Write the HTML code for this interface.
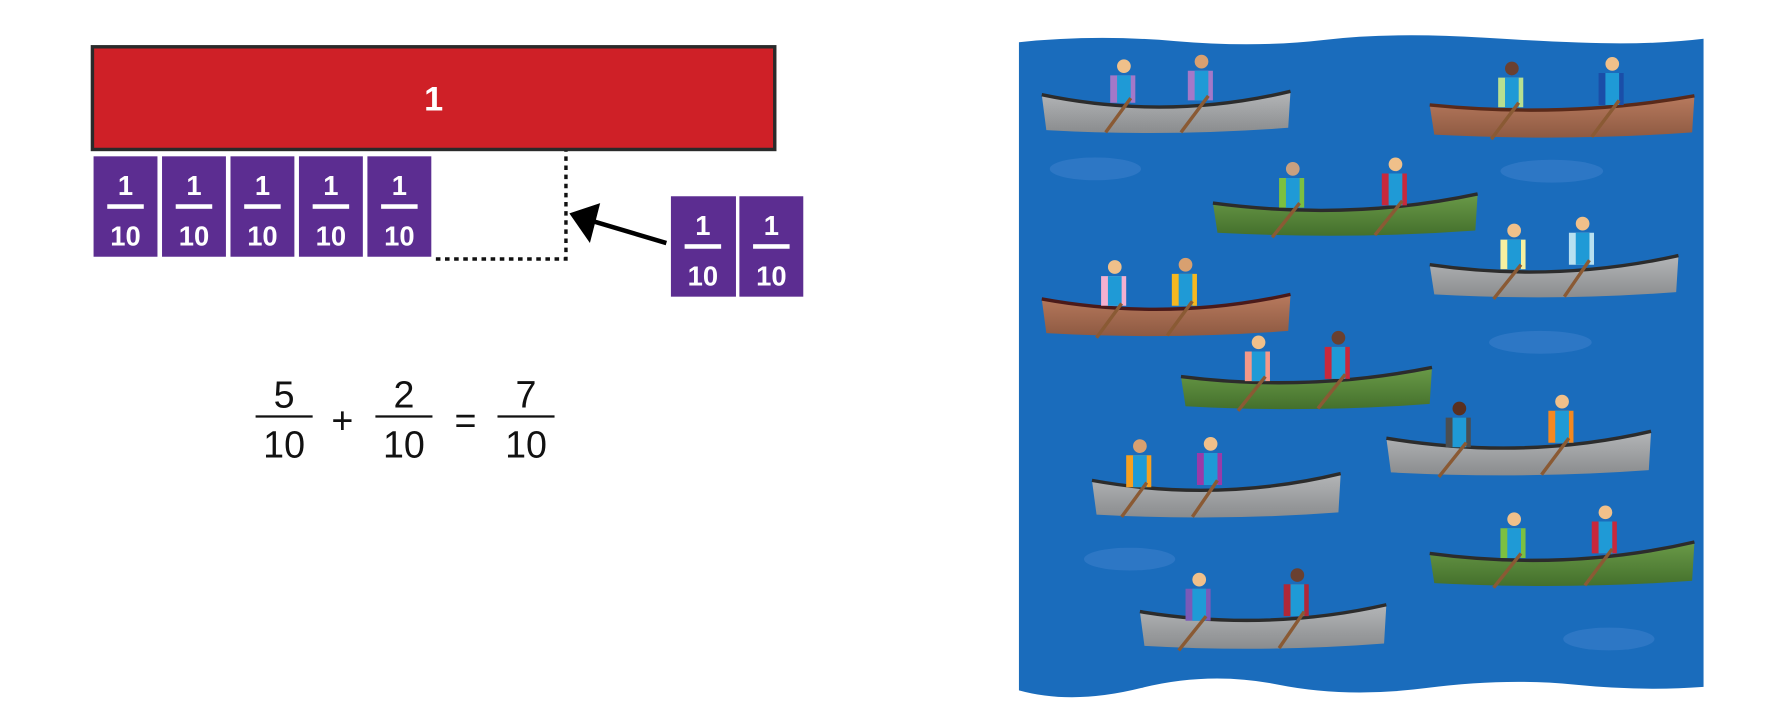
<!DOCTYPE html>
<html><head><meta charset="utf-8"><style>
html,body{margin:0;padding:0;background:#fff;}
svg{display:block;}
</style></head><body>
<svg width="1780" height="720" viewBox="0 0 1560 631" xmlns="http://www.w3.org/2000/svg" font-family="Liberation Sans, DejaVu Sans, sans-serif">
<defs>
<linearGradient id="gray" x1="0" y1="0" x2="0" y2="1"><stop offset="0" stop-color="#b4b6b8"/><stop offset="1" stop-color="#8a8c8e"/></linearGradient>
<linearGradient id="brown" x1="0" y1="0" x2="0" y2="1"><stop offset="0" stop-color="#b87a5e"/><stop offset="1" stop-color="#8e5a42"/></linearGradient>
<linearGradient id="green" x1="0" y1="0" x2="0" y2="1"><stop offset="0" stop-color="#6a9a48"/><stop offset="1" stop-color="#44702c"/></linearGradient>
</defs>
<!-- red bar -->
<rect x="81" y="41" width="598" height="90" fill="#cf2027" stroke="#2a2a2a" stroke-width="3"/>
<text x="380" y="97" font-size="30" font-weight="bold" fill="#fff" text-anchor="middle">1</text>
<!-- tiles -->
<g font-weight="bold" fill="#fff" text-anchor="middle" font-size="24">
<g transform="translate(82,137)"><rect width="56" height="88" fill="#5c2d91"/><text x="28" y="34">1</text><rect x="12" y="42" width="32" height="4" fill="#fff"/><text x="28" y="78">10</text></g>
<g transform="translate(142,137)"><rect width="56" height="88" fill="#5c2d91"/><text x="28" y="34">1</text><rect x="12" y="42" width="32" height="4" fill="#fff"/><text x="28" y="78">10</text></g>
<g transform="translate(202,137)"><rect width="56" height="88" fill="#5c2d91"/><text x="28" y="34">1</text><rect x="12" y="42" width="32" height="4" fill="#fff"/><text x="28" y="78">10</text></g>
<g transform="translate(262,137)"><rect width="56" height="88" fill="#5c2d91"/><text x="28" y="34">1</text><rect x="12" y="42" width="32" height="4" fill="#fff"/><text x="28" y="78">10</text></g>
<g transform="translate(322,137)"><rect width="56" height="88" fill="#5c2d91"/><text x="28" y="34">1</text><rect x="12" y="42" width="32" height="4" fill="#fff"/><text x="28" y="78">10</text></g>
<g transform="translate(588,172)"><rect width="57" height="88" fill="#5c2d91"/><text x="28" y="34">1</text><rect x="12" y="42" width="32" height="4" fill="#fff"/><text x="28" y="78">10</text></g>
<g transform="translate(648,172)"><rect width="56" height="88" fill="#5c2d91"/><text x="28" y="34">1</text><rect x="12" y="42" width="32" height="4" fill="#fff"/><text x="28" y="78">10</text></g>
</g>
<!-- dotted -->
<path d="M382,227 H496 V132" fill="none" stroke="#111" stroke-width="3" stroke-dasharray="4,4"/>
<!-- arrow -->
<line x1="584" y1="213" x2="520" y2="194" stroke="#000" stroke-width="4"/>
<polygon points="499,187 526,178 517,213" fill="#000"/>
<!-- equation -->
<g font-size="33" fill="#111" text-anchor="middle">
<text x="249" y="357">5</text><rect x="224" y="364" width="50" height="2"/><text x="249" y="401">10</text>
<text x="300" y="380">+</text>
<text x="354" y="357">2</text><rect x="329" y="364" width="50" height="2"/><text x="354" y="401">10</text>
<text x="408" y="380">=</text>
<text x="461" y="357">7</text><rect x="436" y="364" width="50" height="2"/><text x="461" y="401">10</text>
</g>
<!-- water -->
<path d="M893,37 Q960,30 1030,36 T1160,35 T1300,33 T1420,38 T1493,34 L1493,602 Q1440,606 1380,600 T1250,603 T1120,600 T1000,603 T893,605 Z" fill="#1a6cbc"/>
<g fill="#3b7fcc" opacity="0.6">
<ellipse cx="960" cy="148" rx="40" ry="10"/><ellipse cx="1360" cy="150" rx="45" ry="10"/>
<ellipse cx="1350" cy="300" rx="45" ry="10"/><ellipse cx="990" cy="490" rx="40" ry="10"/>
<ellipse cx="1410" cy="560" rx="40" ry="10"/>
</g>
<!-- boats -->
<g id="boats">
<!-- helper drawing: each boat -->
<g transform="translate(913,118)"><path d="M0,-35 Q110,-12 218,-38 L216,-6 Q110,2 4,-4 Z" fill="url(#gray)"/><path d="M0,-35 Q110,-12 218,-38" stroke="#2c2c2c" stroke-width="3" fill="none"/>
<circle cx="72" cy="-60" r="6" fill="#f0c08a"/><path d="M60,-52 h22 v24 h-22z" fill="#a478c8"/><path d="M66,-52 h12 v24 h-12z" fill="#1f9ad6"/><line x1="78" y1="-32" x2="56" y2="-2" stroke="#8a5a34" stroke-width="3"/>
<circle cx="140" cy="-64" r="6" fill="#d8a070"/><path d="M128,-56 h22 v26 h-22z" fill="#a478c8"/><path d="M134,-56 h12 v26 h-12z" fill="#1f9ad6"/><line x1="146" y1="-34" x2="122" y2="-2" stroke="#8a5a34" stroke-width="3"/></g>

<g transform="translate(1253,122)"><path d="M0,-30 Q120,-18 232,-38 L230,-6 Q120,2 4,-4 Z" fill="url(#brown)"/><path d="M0,-30 Q120,-18 232,-38" stroke="#5a2a1a" stroke-width="3" fill="none"/>
<circle cx="72" cy="-62" r="6" fill="#6a4030"/><path d="M60,-54 h22 v26 h-22z" fill="#b8e090"/><path d="M66,-54 h12 v26 h-12z" fill="#1f9ad6"/><line x1="78" y1="-32" x2="54" y2="0" stroke="#8a5a34" stroke-width="3"/>
<circle cx="160" cy="-66" r="6" fill="#f0c08a"/><path d="M148,-58 h22 v28 h-22z" fill="#1a4ea8"/><path d="M154,-58 h12 v28 h-12z" fill="#1f9ad6"/><line x1="166" y1="-34" x2="142" y2="-2" stroke="#8a5a34" stroke-width="3"/></g>

<g transform="translate(1063,208)"><path d="M0,-30 Q120,-14 232,-38 L230,-6 Q120,2 4,-4 Z" fill="url(#green)"/><path d="M0,-30 Q120,-14 232,-38" stroke="#2c2c2c" stroke-width="3" fill="none"/>
<circle cx="70" cy="-60" r="6" fill="#c8a080"/><path d="M58,-52 h22 v26 h-22z" fill="#7cc040"/><path d="M64,-52 h12 v26 h-12z" fill="#1f9ad6"/><line x1="76" y1="-30" x2="52" y2="0" stroke="#8a5a34" stroke-width="3"/>
<circle cx="160" cy="-64" r="6" fill="#f0c08a"/><path d="M148,-56 h22 v28 h-22z" fill="#c8283c"/><path d="M154,-56 h12 v28 h-12z" fill="#1f9ad6"/><line x1="166" y1="-32" x2="142" y2="-2" stroke="#8a5a34" stroke-width="3"/></g>

<g transform="translate(1253,262)"><path d="M0,-30 Q110,-14 218,-38 L216,-6 Q110,2 4,-4 Z" fill="url(#gray)"/><path d="M0,-30 Q110,-14 218,-38" stroke="#2c2c2c" stroke-width="3" fill="none"/>
<circle cx="74" cy="-60" r="6" fill="#f0c08a"/><path d="M62,-52 h22 v26 h-22z" fill="#f6f0a0"/><path d="M68,-52 h12 v26 h-12z" fill="#1f9ad6"/><line x1="80" y1="-30" x2="56" y2="0" stroke="#8a5a34" stroke-width="3"/>
<circle cx="134" cy="-66" r="6" fill="#f0c08a"/><path d="M122,-58 h22 v28 h-22z" fill="#b8e0f0"/><path d="M128,-58 h12 v28 h-12z" fill="#1f9ad6"/><line x1="140" y1="-34" x2="118" y2="-2" stroke="#8a5a34" stroke-width="3"/></g>

<g transform="translate(913,296)"><path d="M0,-34 Q110,-14 218,-38 L216,-6 Q110,2 4,-4 Z" fill="url(#brown)"/><path d="M0,-34 Q110,-14 218,-38" stroke="#4a1a1a" stroke-width="3" fill="none"/>
<circle cx="64" cy="-62" r="6" fill="#f0c08a"/><path d="M52,-54 h22 v26 h-22z" fill="#f4b0d0"/><path d="M58,-54 h12 v26 h-12z" fill="#1f9ad6"/><line x1="70" y1="-30" x2="48" y2="0" stroke="#8a5a34" stroke-width="3"/>
<circle cx="126" cy="-64" r="6" fill="#d8a070"/><path d="M114,-56 h22 v28 h-22z" fill="#f6b820"/><path d="M120,-56 h12 v28 h-12z" fill="#1f9ad6"/><line x1="132" y1="-32" x2="110" y2="-2" stroke="#8a5a34" stroke-width="3"/></g>

<g transform="translate(1035,360)"><path d="M0,-30 Q110,-16 220,-38 L218,-6 Q110,2 4,-4 Z" fill="url(#green)"/><path d="M0,-30 Q110,-16 220,-38" stroke="#2c2c2c" stroke-width="3" fill="none"/>
<circle cx="68" cy="-60" r="6" fill="#f0c08a"/><path d="M56,-52 h22 v26 h-22z" fill="#f49888"/><path d="M62,-52 h12 v26 h-12z" fill="#1f9ad6"/><line x1="74" y1="-30" x2="50" y2="0" stroke="#8a5a34" stroke-width="3"/>
<circle cx="138" cy="-64" r="6" fill="#6a4030"/><path d="M126,-56 h22 v28 h-22z" fill="#c8283c"/><path d="M132,-56 h12 v28 h-12z" fill="#1f9ad6"/><line x1="144" y1="-32" x2="120" y2="-2" stroke="#8a5a34" stroke-width="3"/></g>

<g transform="translate(1215,418)"><path d="M0,-34 Q120,-14 232,-40 L230,-6 Q120,2 4,-4 Z" fill="url(#gray)"/><path d="M0,-34 Q120,-14 232,-40" stroke="#2c2c2c" stroke-width="3" fill="none"/>
<circle cx="64" cy="-60" r="6" fill="#5a3020"/><path d="M52,-52 h22 v26 h-22z" fill="#4a4e52"/><path d="M58,-52 h12 v26 h-12z" fill="#1f9ad6"/><line x1="70" y1="-30" x2="46" y2="0" stroke="#8a5a34" stroke-width="3"/>
<circle cx="154" cy="-66" r="6" fill="#f0c08a"/><path d="M142,-58 h22 v28 h-22z" fill="#f48820"/><path d="M148,-58 h12 v28 h-12z" fill="#1f9ad6"/><line x1="160" y1="-34" x2="136" y2="-2" stroke="#8a5a34" stroke-width="3"/></g>

<g transform="translate(957,455)"><path d="M0,-34 Q110,-14 218,-40 L216,-6 Q110,2 4,-4 Z" fill="url(#gray)"/><path d="M0,-34 Q110,-14 218,-40" stroke="#2c2c2c" stroke-width="3" fill="none"/>
<circle cx="42" cy="-64" r="6" fill="#d8a070"/><path d="M30,-56 h22 v28 h-22z" fill="#f6a020"/><path d="M36,-56 h12 v28 h-12z" fill="#1f9ad6"/><line x1="48" y1="-32" x2="26" y2="-2" stroke="#8a5a34" stroke-width="3"/>
<circle cx="104" cy="-66" r="6" fill="#f0c08a"/><path d="M92,-58 h22 v28 h-22z" fill="#9a3aa8"/><path d="M98,-58 h12 v28 h-12z" fill="#1f9ad6"/><line x1="110" y1="-34" x2="88" y2="-2" stroke="#8a5a34" stroke-width="3"/></g>

<g transform="translate(1253,515)"><path d="M0,-30 Q120,-14 232,-40 L230,-6 Q120,2 4,-4 Z" fill="url(#green)"/><path d="M0,-30 Q120,-14 232,-40" stroke="#2c2c2c" stroke-width="3" fill="none"/>
<circle cx="74" cy="-60" r="6" fill="#f0c08a"/><path d="M62,-52 h22 v26 h-22z" fill="#7cc040"/><path d="M68,-52 h12 v26 h-12z" fill="#1f9ad6"/><line x1="80" y1="-30" x2="56" y2="0" stroke="#8a5a34" stroke-width="3"/>
<circle cx="154" cy="-66" r="6" fill="#f0c08a"/><path d="M142,-58 h22 v28 h-22z" fill="#c8283c"/><path d="M148,-58 h12 v28 h-12z" fill="#1f9ad6"/><line x1="160" y1="-34" x2="136" y2="-2" stroke="#8a5a34" stroke-width="3"/></g>

<g transform="translate(999,570)"><path d="M0,-34 Q110,-16 216,-40 L214,-6 Q110,2 4,-4 Z" fill="url(#gray)"/><path d="M0,-34 Q110,-16 216,-40" stroke="#2c2c2c" stroke-width="3" fill="none"/>
<circle cx="52" cy="-62" r="6" fill="#f0c08a"/><path d="M40,-54 h22 v28 h-22z" fill="#7a5ab8"/><path d="M46,-54 h12 v28 h-12z" fill="#1f9ad6"/><line x1="58" y1="-30" x2="34" y2="0" stroke="#8a5a34" stroke-width="3"/>
<circle cx="138" cy="-66" r="6" fill="#6a4030"/><path d="M126,-58 h22 v28 h-22z" fill="#b02838"/><path d="M132,-58 h12 v28 h-12z" fill="#1f9ad6"/><line x1="144" y1="-34" x2="122" y2="-2" stroke="#8a5a34" stroke-width="3"/></g>
</g>
</svg>
</body></html>
